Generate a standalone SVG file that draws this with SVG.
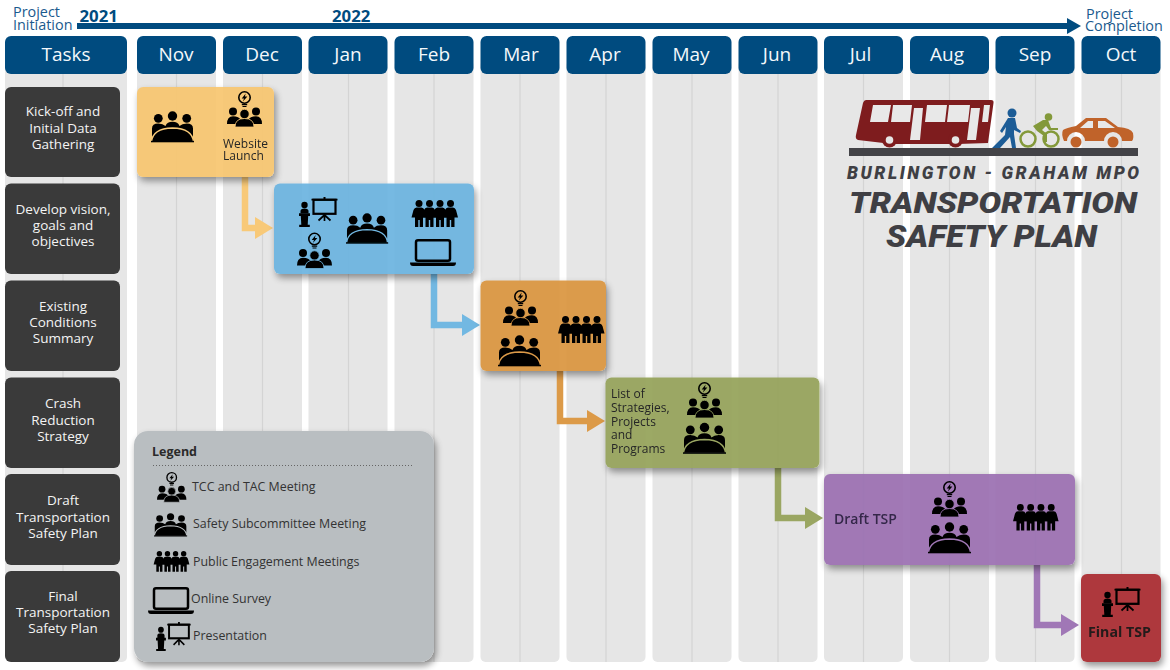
<svg xmlns="http://www.w3.org/2000/svg" width="1170" height="670" viewBox="0 0 1170 670">
<style>
text{font-family:"Open Sans","Noto Sans","Liberation Sans",sans-serif}
.stripe{fill:#e6e6e6}
.mid{stroke:#d4d4d4;stroke-width:1.2}
.hdr{fill:#004b7f}
.hl{fill:#f4f8fb;font-size:19px;text-anchor:middle}
.tb{fill:#3a3a3a}
.tt{fill:#f4f4f4;font-size:13.5px;font-weight:500;text-anchor:middle}
.bar{fill-opacity:.93}
.lab{fill:#262626;font-size:12px;font-weight:500}
.leg{fill:#333;font-size:12.4px}
.tl{fill:#1a5a8e;font-size:14.4px;font-weight:500}
.yr{fill:#004b7f;font-size:16.8px;font-weight:700}
.logo{fill:#3f3f44;font-family:Roboto,"Liberation Sans",sans-serif;font-weight:900;font-style:italic}
.cn{fill:none;stroke-width:6.5}
</style>
<defs>
<filter id="sh" x="-15%" y="-15%" width="130%" height="135%">
<feOffset in="SourceAlpha" dx="2" dy="4"/><feGaussianBlur stdDeviation="3.5" result="b"/>
<feComposite in="b" in2="SourceAlpha" operator="out" result="o"/>
<feComponentTransfer in="o" result="s"><feFuncA type="linear" slope=".42"/></feComponentTransfer>
<feMerge><feMergeNode in="s"/><feMergeNode in="SourceGraphic"/></feMerge>
</filter>
<marker id="aY" markerUnits="userSpaceOnUse" markerWidth="19" markerHeight="24" refX="0" refY="12" orient="auto"><path d="M0 1L18 12L0 23z" fill="#f8c978"/></marker>
<marker id="aB" markerUnits="userSpaceOnUse" markerWidth="19" markerHeight="24" refX="0" refY="12" orient="auto"><path d="M0 1L18 12L0 23z" fill="#72b8e2"/></marker>
<marker id="aO" markerUnits="userSpaceOnUse" markerWidth="19" markerHeight="24" refX="0" refY="12" orient="auto"><path d="M0 1L18 12L0 23z" fill="#dc9a48"/></marker>
<marker id="aG" markerUnits="userSpaceOnUse" markerWidth="19" markerHeight="24" refX="0" refY="12" orient="auto"><path d="M0 1L18 12L0 23z" fill="#9aa662"/></marker>
<marker id="aP" markerUnits="userSpaceOnUse" markerWidth="19" markerHeight="24" refX="0" refY="12" orient="auto"><path d="M0 1L18 12L0 23z" fill="#a077b6"/></marker>
<g id="meet">
<circle cx="7.300" cy="7.300" r="4.400"/><circle cx="21.500" cy="5" r="4.700"/><circle cx="35.700" cy="7.300" r="4.400"/>
<path d="M1 26V17.500Q1 12.500 7.300 12.500Q12 12.500 14.500 15Q16 10.800 21.500 10.800Q27 10.800 28.500 15Q31 12.500 35.700 12.500Q42 12.500 42 17.500V26z"/>
<path d="M.5 31Q1.500 17.500 21.500 17Q41.500 17.500 42.500 31z" stroke="currentColor" stroke-width="1.300"/>
<rect x="0" y="29.800" width="43" height="1.500"/>
</g>
<g id="tcc">
<circle cx="17.500" cy="6.500" r="5.700" fill="none" stroke="#000" stroke-width="1.600"/>
<path d="M18.700 2.600L14.700 7.400H17L15.900 10.400L20.400 5.600H17.900z"/>
<path d="M14.800 13h5.400v1.200h-5.400zM15.500 15h4v1.100h-4z"/>
<circle cx="6" cy="20.500" r="4"/><circle cx="29" cy="20.500" r="4"/>
<path d="M0 33Q0 25.200 6 25.200Q12 25.200 14 29L12 33zM35 33Q35 25.200 29 25.200Q23 25.200 21 29L23 33z"/>
<circle cx="17.500" cy="23" r="4.700" stroke="currentColor" stroke-width=".8"/>
<path d="M8 36Q8 27.500 17.500 27.500Q27 27.500 27 36z" stroke="currentColor" stroke-width=".8"/>
</g>
<g id="fig1"><circle cx="5.500" cy="3.500" r="3.500"/><path d="M3 7.500H8Q10 7.500 11 10L13 17.500H9.500V27H6.200V20H4.800V27H1.500V17.500H-2L0 10Q1 7.500 3 7.500z"/></g>
<g id="pub"><use href="#fig1" x="1.500"/><use href="#fig1" x="12"/><use href="#fig1" x="22.500"/><use href="#fig1" x="33"/></g>
<g id="lap">
<rect x="6" y="1.300" width="34" height="20.500" rx="2" fill="none" stroke="#000" stroke-width="2.500"/>
<path d="M0 23.500H46Q46 27 43 27H3Q0 27 0 23.500z"/>
</g>
<g id="pres">
<circle cx="5.500" cy="8" r="3.200"/>
<path d="M1.500 16.500V14Q1.500 11.500 5.500 11.500Q9.500 11.500 9.500 14V16.500z"/>
<path d="M0 16.300H11V19H9.200L8.700 27.800H10.800V30H.2V27.800H2.300L1.800 19H0z"/>
<rect x="14.500" y="2.800" width="22" height="14" fill="none" stroke="#000" stroke-width="2.200"/>
<path d="M12.500 1.700H38.500V3.500H12.500zM24.500 0H26.500V2H24.500z"/>
<path d="M25.500 17V24M25.500 18L19.500 23.500M25.500 18L31.500 23.500" stroke="#000" stroke-width="1.700" fill="none"/>
</g>
</defs>

<g id="columns">
<rect class="stripe" x="5" y="60" width="122" height="602" rx="5"/><path class="mid" d="M63 74V662"/>
<rect class="stripe" x="137" y="60" width="79" height="602" rx="5"/><path class="mid" d="M176.500 74V662"/>
<rect class="stripe" x="223" y="60" width="79" height="602" rx="5"/><path class="mid" d="M262.500 74V662"/>
<rect class="stripe" x="308.500" y="60" width="79" height="602" rx="5"/><path class="mid" d="M348.500 74V662"/>
<rect class="stripe" x="394.500" y="60" width="79" height="602" rx="5"/><path class="mid" d="M434 74V662"/>
<rect class="stripe" x="480.500" y="60" width="79" height="602" rx="5"/><path class="mid" d="M520 74V662"/>
<rect class="stripe" x="566.500" y="60" width="79" height="602" rx="5"/><path class="mid" d="M606 74V662"/>
<rect class="stripe" x="652.500" y="60" width="79" height="602" rx="5"/><path class="mid" d="M692 74V662"/>
<rect class="stripe" x="738.500" y="60" width="79" height="602" rx="5"/><path class="mid" d="M778 74V662"/>
<rect class="stripe" x="824" y="60" width="79" height="602" rx="5"/><path class="mid" d="M863.500 74V662"/>
<rect class="stripe" x="910" y="60" width="79" height="602" rx="5"/><path class="mid" d="M949.500 74V662"/>
<rect class="stripe" x="995.500" y="60" width="79" height="602" rx="5"/><path class="mid" d="M1035.500 74V662"/>
<rect class="stripe" x="1081.500" y="60" width="79" height="602" rx="5"/><path class="mid" d="M1121.500 74V662"/>
</g>

<g id="timeline">
<path d="M77 23H1067V18L1081 26L1067 34V29H77z" fill="#004b7f"/>
<text class="tl" x="13" y="17">Project</text><text class="tl" x="13" y="30">Initiation</text>
<text class="tl" x="1086" y="19">Project</text><text class="tl" x="1085" y="31">Completion</text>
<text class="yr" x="79.500" y="22">2021</text><text class="yr" x="332" y="22">2022</text>
</g>

<g id="headers">
<g id="h-tasks"><rect class="hdr" x="5" y="36" width="122" height="38" rx="6"/><text class="hl" x="66" y="61">Tasks</text></g>
<g id="h-nov"><rect class="hdr" x="137" y="36" width="79" height="38" rx="6"/><text class="hl" x="176" y="61">Nov</text></g>
<g id="h-dec"><rect class="hdr" x="223" y="36" width="79" height="38" rx="6"/><text class="hl" x="262" y="61">Dec</text></g>
<g id="h-jan"><rect class="hdr" x="308.500" y="36" width="79" height="38" rx="6"/><text class="hl" x="348" y="61">Jan</text></g>
<g id="h-feb"><rect class="hdr" x="394.500" y="36" width="79" height="38" rx="6"/><text class="hl" x="434" y="61">Feb</text></g>
<g id="h-mar"><rect class="hdr" x="480.500" y="36" width="79" height="38" rx="6"/><text class="hl" x="521" y="61">Mar</text></g>
<g id="h-apr"><rect class="hdr" x="566.500" y="36" width="79" height="38" rx="6"/><text class="hl" x="605" y="61">Apr</text></g>
<g id="h-may"><rect class="hdr" x="652.500" y="36" width="79" height="38" rx="6"/><text class="hl" x="691" y="61">May</text></g>
<g id="h-jun"><rect class="hdr" x="738.500" y="36" width="79" height="38" rx="6"/><text class="hl" x="777" y="61">Jun</text></g>
<g id="h-jul"><rect class="hdr" x="824" y="36" width="79" height="38" rx="6"/><text class="hl" x="860.500" y="61">Jul</text></g>
<g id="h-aug"><rect class="hdr" x="910" y="36" width="79" height="38" rx="6"/><text class="hl" x="947" y="61">Aug</text></g>
<g id="h-sep"><rect class="hdr" x="995.500" y="36" width="79" height="38" rx="6"/><text class="hl" x="1035" y="61">Sep</text></g>
<g id="h-oct"><rect class="hdr" x="1081.500" y="36" width="79" height="38" rx="6"/><text class="hl" x="1121" y="61">Oct</text></g>
</g>

<g id="tasks">
<g id="t1"><rect class="tb" x="5" y="87" width="115" height="90" rx="6"/><text class="tt" x="63" y="116">Kick-off and</text><text class="tt" x="63" y="132.500">Initial Data</text><text class="tt" x="63" y="149">Gathering</text></g>
<g id="t2"><rect class="tb" x="5" y="183.500" width="115" height="90.500" rx="6"/><text class="tt" x="63" y="214">Develop vision,</text><text class="tt" x="63" y="230">goals and</text><text class="tt" x="63" y="246">objectives</text></g>
<g id="t3"><rect class="tb" x="5" y="280.500" width="115" height="90.500" rx="6"/><text class="tt" x="63" y="311">Existing</text><text class="tt" x="63" y="327">Conditions</text><text class="tt" x="63" y="343">Summary</text></g>
<g id="t4"><rect class="tb" x="5" y="377.500" width="115" height="90.500" rx="6"/><text class="tt" x="63" y="408">Crash</text><text class="tt" x="63" y="424.500">Reduction</text><text class="tt" x="63" y="440.500">Strategy</text></g>
<g id="t5"><rect class="tb" x="5" y="474" width="115" height="91" rx="6"/><text class="tt" x="63" y="505">Draft</text><text class="tt" x="63" y="521.500">Transportation</text><text class="tt" x="63" y="537.500">Safety Plan</text></g>
<g id="t6"><rect class="tb" x="5" y="571" width="115" height="91" rx="6"/><text class="tt" x="63" y="601">Final</text><text class="tt" x="63" y="617">Transportation</text><text class="tt" x="63" y="633">Safety Plan</text></g>
</g>

<g id="connectors">
<path class="cn" stroke="#f8c978" d="M245 177V228H255" marker-end="url(#aY)"/>
<path class="cn" stroke="#72b8e2" d="M434 274V325H462" marker-end="url(#aB)"/>
<path class="cn" stroke="#dc9a48" d="M560 371V421H587" marker-end="url(#aO)"/>
<path class="cn" stroke="#9aa662" d="M778 468V518H805" marker-end="url(#aG)"/>
<path class="cn" stroke="#a077b6" d="M1037 565V625H1061" marker-end="url(#aP)"/>
</g>

<g id="bar-kickoff" style="color:#f8c978" filter="url(#sh)">
<rect class="bar" x="137" y="87" width="137" height="90" rx="6" fill="#f8c670"/>
<use href="#meet" transform="translate(151 111)"/>
<use href="#tcc" transform="translate(227 91)"/>
<text class="lab" x="223" y="148">Website</text><text class="lab" x="223" y="160">Launch</text>
</g>
<g id="bar-vision" style="color:#72b8e2" filter="url(#sh)">
<rect class="bar" x="274" y="183.500" width="200" height="90.500" rx="6" fill="#6cb4e0"/>
<use href="#pres" transform="translate(299 197)"/>
<use href="#tcc" transform="translate(297 232.500)"/>
<use href="#meet" transform="translate(346 213) scale(.98)"/>
<use href="#pub" transform="translate(412 200)"/>
<use href="#lap" transform="translate(410 239)"/>
</g>
<g id="bar-existing" style="color:#dc9a48" filter="url(#sh)">
<rect class="bar" x="480.500" y="280.500" width="125.500" height="90.500" rx="6" fill="#da9640"/>
<use href="#tcc" transform="translate(503 290)"/>
<use href="#meet" transform="translate(498 335)"/>
<use href="#pub" transform="translate(558.500 316)"/>
</g>
<g id="bar-crash" style="color:#9aa662" filter="url(#sh)">
<rect class="bar" x="605.500" y="377.500" width="214" height="90.500" rx="6" fill="#94a25a"/>
<text class="lab" x="611" y="398">List of</text><text class="lab" x="611" y="412">Strategies,</text><text class="lab" x="611" y="425.500">Projects</text><text class="lab" x="611" y="439">and</text><text class="lab" x="611" y="453">Programs</text>
<use href="#tcc" transform="translate(687 382)"/>
<use href="#meet" transform="translate(683 422.500)"/>
</g>
<g id="bar-draft" style="color:#a077b6" filter="url(#sh)">
<rect class="bar" x="824" y="474" width="251" height="91" rx="6" fill="#9b70b2"/>
<text x="834" y="524" font-size="14" font-weight="600" fill="#35284a">Draft TSP</text>
<use href="#tcc" transform="translate(932 481)"/>
<use href="#meet" transform="translate(928 522)"/>
<use href="#pub" transform="translate(1013.500 504) scale(.98)"/>
</g>
<g id="bar-final" style="color:#ae383c" filter="url(#sh)">
<rect x="1081" y="574" width="80" height="88" rx="6" fill="#ae383c"/>
<use href="#pres" transform="translate(1102 587)"/>
<text x="1088" y="637" font-size="14.200" font-weight="700" fill="#241a1a">Final TSP</text>
</g>

<g id="legend" style="color:#b9bec1">
<rect x="134" y="431" width="300" height="231" rx="14" fill="#b9bec1" filter="url(#sh)"/>
<text x="152" y="456" font-size="12.500" font-weight="700" fill="#2a2a2a">Legend</text>
<path d="M153 465.500H414" stroke="#666" stroke-width="1" stroke-dasharray="1 2" fill="none"/>
<use href="#tcc" transform="translate(157 472) scale(.84)"/>
<text class="leg" x="192" y="491">TCC and TAC Meeting</text>
<use href="#meet" transform="translate(154 513) scale(.77 .75)"/>
<text class="leg" x="193" y="528">Safety Subcommittee Meeting</text>
<use href="#pub" transform="translate(154 551) scale(.77)"/>
<text class="leg" x="193" y="566">Public Engagement Meetings</text>
<use href="#lap" transform="translate(148 587)"/>
<text class="leg" x="191" y="603">Online Survey</text>
<use href="#pres" transform="translate(156 622) scale(.9 .97)"/>
<text class="leg" x="193" y="640">Presentation</text>
</g>

<g id="logo">
<path d="M866 100H991Q994 100 993.500 103L988 143L958 144H892L858 140Q855 139 856 135L863 103Q864 100 866 100z" fill="#7e1c1e"/>
<circle cx="889.500" cy="140" r="7.500" fill="#7e1c1e"/><circle cx="955.500" cy="140" r="7.500" fill="#7e1c1e"/>
<circle cx="889.500" cy="140" r="3.800" fill="#e6e6e6"/><circle cx="955.500" cy="140" r="3.800" fill="#e6e6e6"/>
<path d="M873 105H891L888 122H870zM893 105H912L910 122H891zM927 105H947L945 122H925zM949 105H970L968 122H947zM984 105H990L988 122H982zM914 108H923L920 140H910zM971 108H980L976 140H967z" fill="#e8e8e8"/>
<g fill="#1c5c96"><circle cx="1012" cy="113" r="4.500"/><path d="M1008 118H1015L1017 128L1021 131L1020 133L1014 130L1014 134L1016 148H1012L1010 137L1000 148H992L1005 135L1006 127L1002 133L1000 131z"/></g>
<g fill="none" stroke="#83993a" stroke-width="2.500"><circle cx="1028" cy="139" r="7.500"/><circle cx="1051" cy="139" r="7.500"/></g>
<g fill="#83993a"><circle cx="1048.500" cy="117" r="3.800"/><path d="M1033 126L1043 120H1048L1051 128H1058V130H1049L1046 126L1042 130L1047 134V142H1044V136L1037 131z"/></g>
<path d="M1064 141Q1061 134 1063 130Q1066 128 1076 126L1086 118H1106L1118 127Q1131 128 1133 133Q1134 139 1132 141H1122A9 9 0 0 0 1104 141H1085A9 9 0 0 0 1067 141z" fill="#c0632a"/>
<circle cx="1076" cy="142" r="5.500" fill="#c0632a"/><circle cx="1113" cy="142" r="5.500" fill="#c0632a"/>
<path d="M1080 128L1088 121H1093V128zM1098 121H1105L1115 128H1098z" fill="#e8e8e8"/>
<rect x="849" y="148" width="289" height="8" fill="#434347"/>
<text class="logo" x="847" y="179" font-size="17.500" textLength="292" lengthAdjust="spacing">BURLINGTON - GRAHAM MPO</text>
<text class="logo" x="849" y="213" font-size="30" textLength="288" lengthAdjust="spacingAndGlyphs">TRANSPORTATION</text>
<text class="logo" x="886" y="247" font-size="31" textLength="211" lengthAdjust="spacingAndGlyphs">SAFETY PLAN</text>
</g>
</svg>
